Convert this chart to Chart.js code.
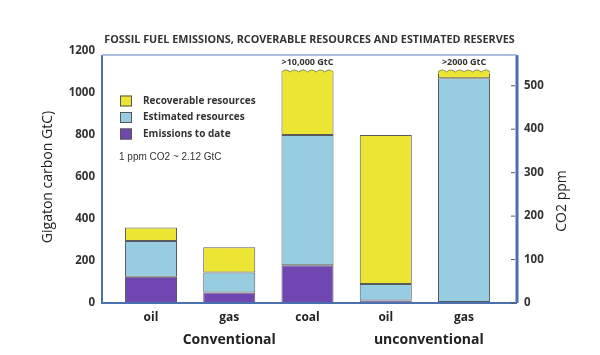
<!DOCTYPE html>
<html>
<head>
<meta charset="utf-8">
<script src="https://cdn.jsdelivr.net/npm/chart.js@4.4.1/dist/chart.umd.min.js"></script>
<style>
html,body{margin:0;padding:0;background:#fff;}
#wrap{width:600px;height:355px;position:relative;}
</style>
</head>
<body>
<div id="wrap"><canvas id="c" width="600" height="355"></canvas></div>
<script>
// ---- data ----
const categories = ["oil", "gas", "coal", "oil", "gas"];
const groups = ["Conventional", "unconventional"];
const emissions = [125, 50, 180, 12, 5];
const estimated = [170, 95, 620, 78, 1065];
const recoverable = [65, 120, 300, 710, 30];
const overflowLabels = ["", "", ">10,000 GtC", "", ">2000 GtC"];
const leftTicks = [0, 200, 400, 600, 800, 1000, 1200];
const rightTicks = [0, 100, 200, 300, 400, 500];
const title = "FOSSIL FUEL EMISSIONS, RCOVERABLE RESOURCES AND ESTIMATED RESERVES";
const note = "1 ppm CO2 ~ 2.12 GtC";

const toXY = arr => arr.map((v, i) => ({x: i, y: v}));

const deco = {
  id: 'deco',
  afterDatasetsDraw(chart) {
    const ctx = chart.ctx;
    const a = chart.chartArea;
    const xs = chart.scales.x;
    const y2 = chart.scales.y2;
    ctx.save();
    // wavy tops on the overflow bars (top dataset = index 2)
    const topDs = chart.data.datasets[2];
    const topMeta = chart.getDatasetMeta(2);
    overflowLabels.forEach((lab, i) => {
      if (!lab) return;
      const el = topMeta.data[i];
      const x0 = el.x - el.width / 2, x1 = el.x + el.width / 2, t = el.y;
      ctx.fillStyle = topDs.backgroundColor;
      const n = 6, w = (x1 - x0) / n;
      ctx.beginPath();
      ctx.moveTo(x0 + 0.5, t + 2);
      ctx.lineTo(x0 + 0.5, t);
      for (let k = 0; k < n; k++) {
        ctx.quadraticCurveTo(x0 + k * w + w / 2, t - 4, x0 + (k + 1) * w, t);
      }
      ctx.lineTo(x1 - 0.5, t + 2);
      ctx.closePath();
      ctx.fill();
      ctx.beginPath();
      ctx.moveTo(x0, t);
      for (let k = 0; k < n; k++) {
        ctx.quadraticCurveTo(x0 + k * w + w / 2, t - 4, x0 + (k + 1) * w, t);
      }
      ctx.strokeStyle = '#8a8a55';
      ctx.lineWidth = 1;
      ctx.stroke();
      ctx.fillStyle = '#333';
      ctx.font = 'bold 9px "Open Sans"';
      ctx.textAlign = 'center';
      ctx.textBaseline = 'middle';
      ctx.fillText(lab, el.x, t - 10);
    });
    // frame
    ctx.strokeStyle = '#4a70ad';
    ctx.lineWidth = 2;
    ctx.beginPath();
    ctx.moveTo(a.left, a.top + 4);
    ctx.lineTo(a.left, a.bottom);
    ctx.lineTo(a.right, a.bottom);
    ctx.stroke();
    ctx.lineWidth = 3;
    ctx.beginPath();
    ctx.moveTo(a.right, a.top + 4);
    ctx.lineTo(a.right, a.bottom);
    ctx.stroke();
    ctx.strokeStyle = '#8fa8d0';
    ctx.lineWidth = 1.5;
    ctx.beginPath();
    ctx.moveTo(a.left, a.top + 4);
    ctx.lineTo(a.right, a.top + 4);
    ctx.stroke();
    // right tick marks
    ctx.strokeStyle = '#555';
    ctx.lineWidth = 1;
    rightTicks.forEach(v => {
      const py = y2.getPixelForValue(v);
      ctx.beginPath();
      ctx.moveTo(a.right - 6, py);
      ctx.lineTo(a.right - 2, py);
      ctx.stroke();
    });
    // title
    ctx.fillStyle = '#333';
    ctx.font = 'bold 10.8px "Open Sans"';
    ctx.textAlign = 'center';
    ctx.textBaseline = 'middle';
    ctx.fillText(title, (a.left + a.right) / 2, 40);
    // legend (top of stack first)
    ctx.font = 'bold 10px "Open Sans"';
    ctx.textAlign = 'left';
    [2, 1, 0].forEach((di, k) => {
      const ds = chart.data.datasets[di];
      const cy = 101 + k * 16.5;
      ctx.fillStyle = ds.backgroundColor;
      ctx.fillRect(a.left + 18, cy - 5.5, 12, 11);
      ctx.strokeStyle = '#555';
      ctx.lineWidth = 1;
      ctx.strokeRect(a.left + 18.5, cy - 5, 11, 10);
      ctx.fillStyle = '#333';
      ctx.fillText(ds.label, a.left + 41, cy);
    });
    ctx.font = '10px "Liberation Sans"';
    ctx.fillText(note, a.left + 17, 157);
    // group labels
    ctx.font = 'bold 14px "Open Sans"';
    ctx.textAlign = 'center';
    ctx.fillStyle = '#222';
    ctx.fillText(groups[0], xs.getPixelForValue(1), 340);
    ctx.fillText(groups[1], xs.getPixelForValue(3.55), 340);
    // right title (reads bottom-to-top)
    ctx.translate(562, (a.top + a.bottom) / 2 + 24);
    ctx.rotate(-Math.PI / 2);
    ctx.font = '14px "Open Sans"';
    ctx.fillStyle = '#222';
    ctx.fillText('CO2 ppm', 0, 0);
    ctx.restore();
  }
};

const barStyle = {borderColor: '#5a5a5a', borderWidth: 1, borderSkipped: false, barPercentage: 0.665, categoryPercentage: 1, stack: 's'};

new Chart(document.getElementById('c'), {
  type: 'bar',
  data: {
    datasets: [
      Object.assign({label: 'Emissions to date', data: toXY(emissions), backgroundColor: '#7047b1'}, barStyle),
      Object.assign({label: 'Estimated resources', data: toXY(estimated), backgroundColor: '#96cde0'}, barStyle),
      Object.assign({label: 'Recoverable resources', data: toXY(recoverable), backgroundColor: '#ece534'}, barStyle)
    ]
  },
  options: {
    responsive: false,
    animation: false,
    events: [],
    layout: {padding: {top: 51, left: 0, right: 0, bottom: 0}},
    plugins: {legend: {display: false}, title: {display: false}, tooltip: {enabled: false}},
    scales: {
      x: {
        type: 'linear',
        offset: false,
        min: -0.626,
        max: 4.677,
        grid: {display: false, drawTicks: false},
        border: {display: false},
        afterBuildTicks: s => { s.ticks = categories.map((c, i) => ({value: i})); },
        afterFit: s => { s.height = 52; },
        ticks: {
          callback: v => categories[v],
          font: {family: 'Open Sans', size: 12, weight: 'bold'},
          color: '#222',
          padding: 7,
          maxRotation: 0,
          autoSkip: false
        }
      },
      y: {
        position: 'left',
        stacked: true,
        min: 0,
        max: 1200,
        grid: {display: false, drawTicks: false},
        border: {display: false},
        afterBuildTicks: s => { s.ticks = leftTicks.map(v => ({value: v})); },
        afterFit: s => { s.width = 102; },
        ticks: {callback: v => String(v), font: {family: 'Open Sans', size: 11.5, weight: 'bold'}, color: '#333', padding: 7},
        title: {display: true, text: 'Gigaton carbon GtC)', font: {family: 'Open Sans', size: 14}, color: '#222', padding: {top: 40, bottom: 0}}
      },
      y2: {
        position: 'right',
        min: 0,
        max: 580,
        grid: {display: false, drawTicks: false},
        border: {display: false},
        afterBuildTicks: s => { s.ticks = rightTicks.map(v => ({value: v})); },
        afterFit: s => { s.width = 83; },
        ticks: {callback: v => String(v), font: {family: 'Open Sans', size: 11.5, weight: 'bold'}, color: '#333', padding: 7}
      }
    }
  },
  plugins: [deco]
});
</script>
</body>
</html>
